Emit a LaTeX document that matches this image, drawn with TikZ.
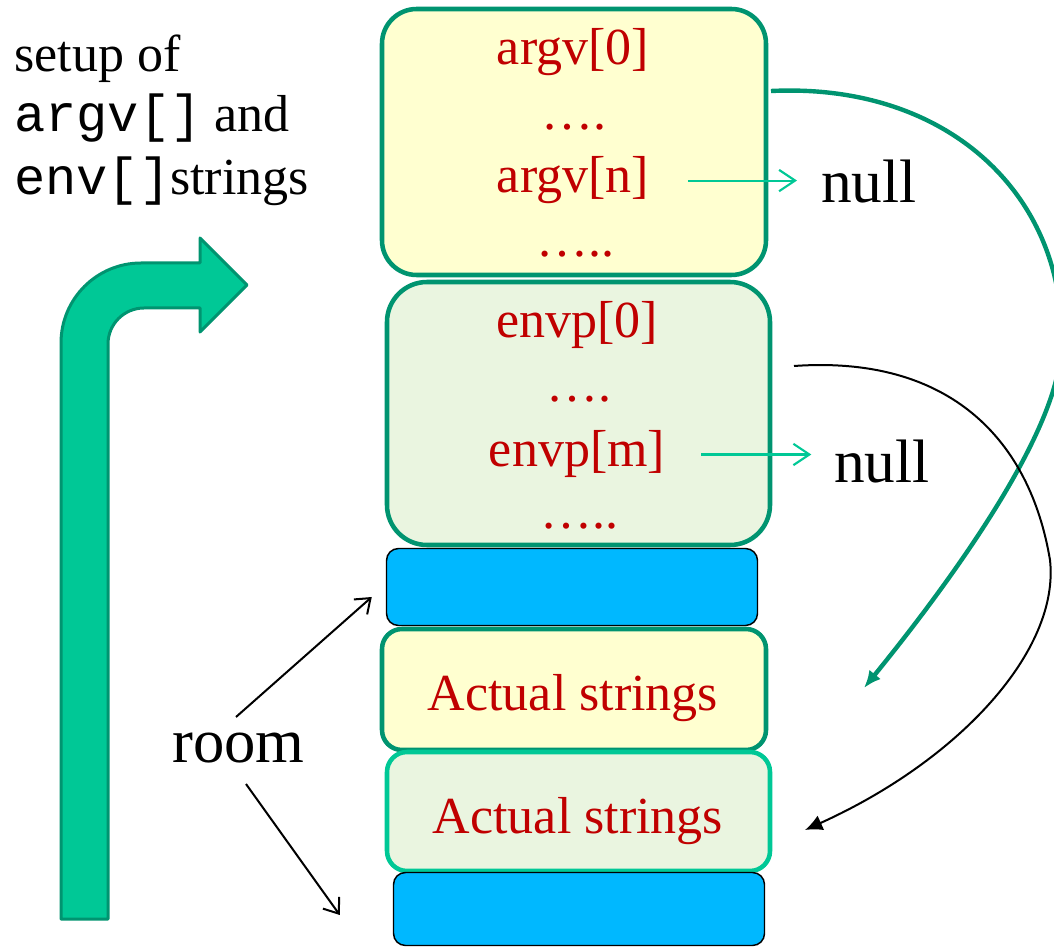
\documentclass[tikz,border=0pt]{standalone}
\usepackage{fontspec}
\setmainfont{Liberation Serif}
\setmonofont{Liberation Mono}
\usetikzlibrary{arrows.meta,calc}
\definecolor{boxgreen}{RGB}{0,148,112}
\definecolor{litegreen}{RGB}{0,200,150}
\definecolor{yellowfill}{RGB}{255,255,208}
\definecolor{greenfill}{RGB}{234,245,224}
\definecolor{bluefill}{RGB}{0,184,255}
\definecolor{txtred}{RGB}{192,0,0}
\begin{document}
\begin{tikzpicture}[x=0.75pt,y=-0.75pt,
  memframe/.style={draw=boxgreen,line width=3.4pt,rounded corners=#1,inner sep=0pt},
  gapbox/.style={draw=black,line width=1.1pt,fill=bluefill,rounded corners=9pt,inner sep=0pt},
  celltext/.style={anchor=base,inner sep=0pt,text=txtred,font=\fontsize{39}{46}\selectfont},
  bigtext/.style={anchor=base west,inner sep=0pt,font=\fontsize{46}{54}\selectfont},
  sidetext/.style={anchor=base west,inner sep=0pt,font=\fontsize{39}{46}\selectfont},
  nullarrow/.style={draw=litegreen,line width=1.6pt,-{Straight Barb[length=12pt,width=16pt]}},
  roomarrow/.style={draw=black,line width=1.5pt,-{Straight Barb[length=10pt,width=15pt]}},
  bentarrow/.style={fill=litegreen,draw=boxgreen,line width=2.25pt,line join=round}
]
\useasboundingbox (0,0) rectangle (1054,948);
\fill[white] (0,0) rectangle (1054,948);

% left text
\node[sidetext] (l1) at (14,72) {setup of};
\node[sidetext] (l2) at (14,132) {\texttt{argv[]} and};
\node[sidetext] (l3) at (14,195) {\texttt{env[]}strings};

% bent arrow
\draw[bentarrow] (61,919) -- (61,343) arc[start angle=180,end angle=270,radius=80]
  -- (200,263) -- (200,238) -- (247,285) -- (200,332) -- (200,308) -- (144,308)
  arc[start angle=270,end angle=180,radius=36] -- (108,919) -- cycle;

% memory boxes
\node[memframe=26pt,fill=yellowfill,minimum width=288pt,minimum height=199.5pt] (argvbox) at (574,142) {};
\node[memframe=30pt,fill=greenfill,minimum width=287.25pt,minimum height=197.25pt] (envbox) at (578.5,413.5) {};
\node[gapbox,minimum width=278.25pt,minimum height=57.75pt] (blue1) at (572,587) {};
\node[memframe=15pt,fill=yellowfill,minimum width=288pt,minimum height=90.75pt] (act1box) at (574,689.5) {};
\node[memframe=15pt,draw=litegreen,fill=greenfill,minimum width=287.25pt,minimum height=89.25pt] (act2box) at (578.5,811.5) {};
\node[gapbox,minimum width=278.25pt,minimum height=54.75pt] (blue2) at (579,909) {};

% cell texts
\node[celltext] (argv0) at (573,65) {argv[0]};
\node[celltext] (dotsA) at (574,130) {….};
\node[celltext] (argvn) at (573,193) {argv[n]};
\node[celltext] (dotsB) at (575,257) {…..};
\node[celltext] (envp0) at (577,338) {envp[0]};
\node[celltext] (dotsC) at (579,402) {….};
\node[celltext] (envpm) at (577,467) {envp[m]};
\node[celltext] (dotsD) at (579,529) {…..};
\node[celltext] (act1) at (573,710) {Actual strings};
\node[celltext] (act2) at (578,833) {Actual strings};

% null labels
\node[bigtext] (null1) at (821,203) {null};
\node[bigtext] (null2) at (834,483) {null};
\draw[nullarrow,shorten <=29pt,shorten >=18pt] (argvn.east) -- (argvn.east -| null1.west);
\draw[nullarrow,shorten <=27pt,shorten >=17pt] (envpm.east) -- (envpm.east -| null2.west);

% room
\node[anchor=base west,inner sep=0pt,font=\fontsize{47}{55}\selectfont] (room) at (172,762) {room};
\coordinate (r1) at (236,717);
\coordinate (r2) at (246,784);
\draw[roomarrow] (r1) -- ([xshift=-10.5pt,yshift=-7.5pt]blue1.west);
\draw[roomarrow] (r2) -- ([xshift=-39.75pt,yshift=-4.5pt]blue2.west);

% pointer curves
\coordinate (gstart) at (771,91);
\coordinate (gmid) at (1060,360);
\coordinate (gend) at (864,688);
\draw[draw=boxgreen,line width=3.3pt,-{Latex[length=13pt,width=11pt]}]
  (gstart) .. controls (960,82) and (1075,210) .. (gmid)
  .. controls (1050,440) and (960,570) .. (gend);
\coordinate (bstart) at (794,366);
\coordinate (bmid) at (1050,560);
\coordinate (bend) at (805,830);
\draw[draw=black,line width=1.5pt,-{Latex[length=13pt,width=12pt]}]
  (bstart) .. controls (950,355) and (1030,440) .. (bmid)
  .. controls (1060,650) and (960,760) .. (bend);
\end{tikzpicture}
\end{document}
